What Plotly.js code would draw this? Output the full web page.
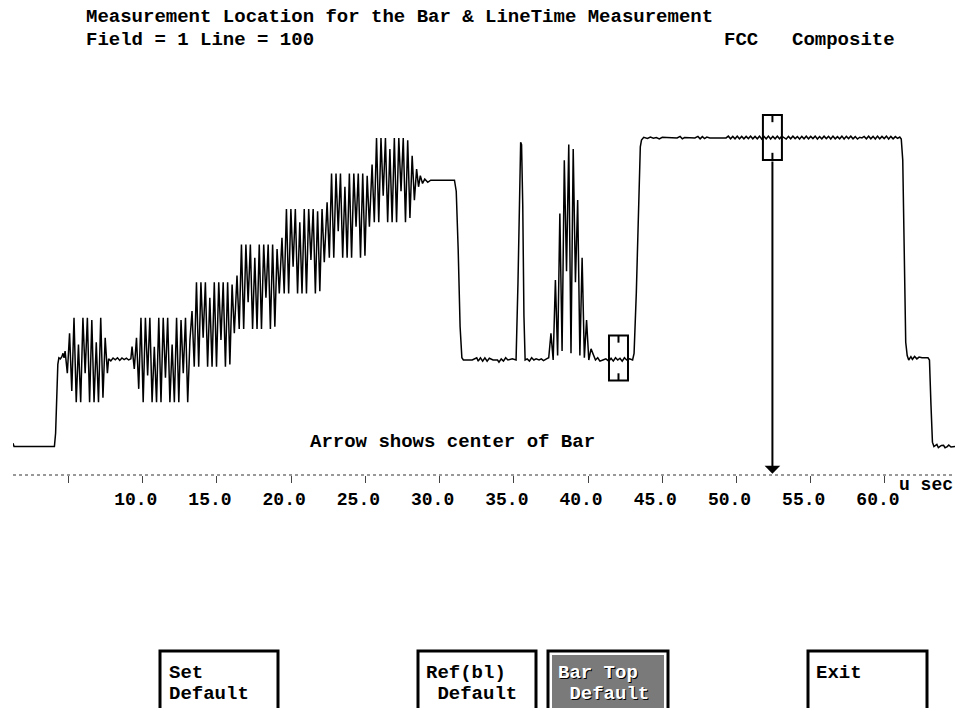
<!DOCTYPE html>
<html><head><meta charset="utf-8">
<script src="https://cdn.plot.ly/plotly-3.0.1.min.js"></script>
<style>html,body{margin:0;padding:0;background:#fff;overflow:hidden}#chart{width:961px;height:708px}</style>
</head><body><div id="chart"></div>
<script>
// ---------- DATA (time in microseconds, level in IRE) ----------
const titleLine1 = 'Measurement Location for the Bar & LineTime Measurement';
const titleLine2 = 'Field = 1 Line = 100';
const standardLabel = 'FCC';
const signalLabel = 'Composite';
const noteText = 'Arrow shows center of Bar';
const unitLabel = 'u sec';
const tickValues = [5, 10, 15, 20, 25, 30, 35, 40, 45, 50, 55, 60];
const tickLabels = ['', '10.0', '15.0', '20.0', '25.0', '30.0', '35.0', '40.0', '45.0', '50.0', '55.0', '60.0'];
const buttonLabels = [['Set', 'Default'], ['Ref(bl)', ' Default'], ['Bar Top', ' Default'], ['Exit']];

// digitizer sample period for the chroma bursts
const sampleUs = 0.15;

// sync tip + rise to blanking  [t, IRE]
const leadSync = [[1.26,-37.5],[1.33,-39],[2.5,-39],[4.05,-39],[4.13,-33],[4.2,-15],[4.28,-2],[4.35,1],[4.45,0.5],[4.55,1.5],[4.63,3],[4.7,1]];
// colour burst
const burstStart = 4.77;
const burstLevels = [4,-6,12,-14,19,-19,7,-19,19,-6,19,-19,18,-19,8,-19,19,-17,10,-6];
const blankAfterBurst = [[7.7,0.5],[7.85,-0.4],[8.0,0.9],[8.15,0.1],[8.3,1],[8.45,-0.2],[8.6,0.9],[8.75,0.2],[8.9,0.8],[9.05,0],[9.2,0.5]];
// modulated staircase (six steps)
const step1Start = 9.28;
const step1Levels = [6,-4,10,-13,19,-19,19,-7,19,-19,6,-19,19,-19,19,-8,19,-19,7,-19,19,-19,18,-6,19,-19,9];
const step2Start = 13.32;
const step2Levels = [22,-3,35,-3,35,10,35,-3,28,-3,35,-3,35,9,35,-3,35,-2,34,12];
const step3Start = 16.35;
const step3Levels = [38,14,52,14,52,26,52,14,46,14,52,14,52,28,52,14,52,15,50,30];
const step4Start = 19.38;
const step4Levels = [55,30,68,30,68,42,68,30,62,30,68,30,68,45,68,30,67,31,68,44];
const step5Start = 22.42;
const step5Levels = [71,46,84,46,84,58,84,46,78,46,84,46,84,60,84,46,84,47,83,60];
const step6Start = 25.45;
const step6Levels = [88,62,100,62,100,74,100,62,95,62,100,62,100,76,100,62,99,64,92,72];
const lumaFlat = [[28.45,86],[28.58,78],[28.7,83],[28.85,79.5],[29.0,81.5],[29.2,80],[29.4,81],[31.0,81],[31.12,76],[31.25,50],[31.38,15],[31.5,1],[31.6,0]];
const blankBeforePulse = [[31.8,0],[32.2,0],[32.5,1],[32.6,-0.5],[32.75,1],[32.9,-0.5],[33.05,1],[33.2,-0.5],[33.35,0.8],[33.6,0],[33.9,0],[34.0,-1],[34.15,0.5],[34.3,-0.5],[34.45,1],[34.6,0],[34.9,0.5],[35.1,0]];
// 2T pulse
const pulse2T = [[35.15,0],[35.28,35],[35.38,82],[35.46,98],[35.52,97],[35.6,70],[35.68,20],[35.76,0]];
const blankBeforeMod = [[35.9,0.5],[36.05,-0.5],[36.2,1],[36.35,0],[36.5,0.5],[36.7,0],[36.85,0.5],[37.0,-0.3],[37.2,0.5]];
// 12.5T modulated pulse
const modPulseStart = 37.35;
const modPulseLevels = [1,12,0,36,2,66,4,90,40,97,3,95,35,72,2,46,1,18,0,5];
const blankBeforeBar = [[40.35,2],[40.5,0],[40.65,1],[40.8,-0.5],[41.0,0],[41.2,0.5],[41.4,-0.5],[41.55,0.8],[41.7,-0.5],[41.85,1],[42.0,0],[42.15,0.8],[42.3,-0.5],[42.45,1],[42.6,0],[42.8,0.5],[43.0,0],[43.1,3],[43.25,30],[43.4,75],[43.52,96],[43.6,99]];
// white bar (100 IRE)
const whiteBar = [[43.75,100.3],[44.0,99.8],[44.2,100.4],[44.4,99.9],[44.6,100.2],[44.8,99.6],[45.0,100.3],[45.3,100.2],[45.6,100],[46.0,100],[46.2,100.7],[46.35,99.6],[46.5,100.2],[46.8,100],[47.2,100],[47.4,100.7],[47.55,99.6],[47.7,100.6],[47.85,99.7],[48.0,100.4],[48.2,100],[48.6,100],[49.0,100],[49.3,100],[49.45,100.8],[49.6,99.6],[49.75,100.7],[49.9,99.6],[50.05,100.8],[50.2,99.6],[50.35,100.7],[50.5,99.6],[50.65,100.7],[50.8,99.7],[50.95,100.8],[51.1,99.6],[51.25,100.7],[51.4,99.6],[51.55,100.8],[51.7,99.5],[51.85,100.7],[52.0,99.6],[52.15,100.8],[52.3,99.5],[52.45,100.7],[52.6,99.6],[52.75,100.8],[52.9,99.6],[53.05,100.8],[53.2,100.2],[53.35,99.5],[53.5,100.7],[53.65,99.6],[53.8,100.8],[53.95,99.7],[54.1,100.6],[54.25,99.5],[54.4,100.7],[54.55,99.6],[54.7,100.8],[54.85,99.6],[55.0,100.7],[55.15,99.7],[55.3,100.8],[55.45,99.5],[55.6,100.6],[55.75,99.6],[55.9,100.8],[56.05,99.7],[56.2,100.7],[56.35,99.5],[56.5,100.8],[56.65,99.6],[56.8,100.6],[56.95,99.6],[57.1,100.8],[57.25,99.5],[57.4,100.7],[57.55,99.7],[57.7,100.8],[57.85,99.6],[58.0,100.6],[58.15,99.5],[58.3,100.3],[58.45,100.0],[58.6,100.7],[58.75,99.6],[58.9,100.8],[59.05,99.6],[59.2,100.7],[59.35,99.5],[59.5,100.8],[59.65,99.6],[59.8,100.7],[59.95,99.7],[60.1,100.8],[60.25,99.5],[60.4,100.7],[60.55,99.6],[60.7,100.6],[60.85,99.8],[61.0,100.4],[61.1,99.5]];
const trailing = [[61.2,90],[61.3,40],[61.4,8],[61.5,2],[61.6,0],[61.75,1.5],[61.85,0.3],[62.0,1.6],[62.15,0.5],[62.3,1.3],[62.5,1],[62.9,1],[63.0,0],[63.1,-20],[63.2,-37],[63.3,-39],[63.5,-38],[63.6,-39.5],[63.8,-38.5],[63.95,-38.4],[64.05,-39.5],[64.2,-39],[64.3,-38.3],[64.45,-39.2],[64.72,-39]];

// measurement markers (centre time, level)
const refMarker = {t: 42.05, level: 0.9};
const barMarker = {t: 52.42, level: 100.2};
const markerHalfWidthUs = 0.64;
const markerHalfHeightIre = 10.1;
const markerTickIre = 3.2;

const xRange = [1.26, 64.72];
const yRange = [-51.8, 135.1];

// ---------- BUILD ----------
const T = [], V = [];
function addPairs(p){ p.forEach(d => { T.push(d[0]); V.push(d[1]); }); }
function addSamples(start, levels){ levels.forEach((v,i) => { T.push(+(start + i*sampleUs).toFixed(3)); V.push(v); }); }
addPairs(leadSync);
addSamples(burstStart, burstLevels);
addPairs(blankAfterBurst);
addSamples(step1Start, step1Levels);
addSamples(step2Start, step2Levels);
addSamples(step3Start, step3Levels);
addSamples(step4Start, step4Levels);
addSamples(step5Start, step5Levels);
addSamples(step6Start, step6Levels);
addPairs(lumaFlat);
addPairs(blankBeforePulse);
addPairs(pulse2T);
addPairs(blankBeforeMod);
addSamples(modPulseStart, modPulseLevels);
addPairs(blankBeforeBar);
addPairs(whiteBar);
addPairs(trailing);

const FONT = '"Courier New", "Liberation Mono", monospace';
const M = {l: 13, r: 6, t: 60, b: 233};
const W = 961, H = 708;
const PW = W - M.l - M.r, PH = H - M.t - M.b;
const px = x => (x - M.l) / PW;
const py = y => (H - M.b - y) / PH;

const shapes = [];
const annotations = [];

// dotted baseline axis
shapes.push({type:'line', xref:'paper', yref:'paper', x0:0, x1:1, y0:0, y1:0, line:{color:'#333', width:1, dash:'dot'}});

// marker boxes
[refMarker, barMarker].forEach(m => {
  const x0 = m.t - markerHalfWidthUs, x1 = m.t + markerHalfWidthUs;
  const y0 = m.level - markerHalfHeightIre, y1 = m.level + markerHalfHeightIre;
  shapes.push({type:'rect', xref:'x', yref:'y', x0, x1, y0, y1, line:{color:'#000', width:2}, fillcolor:'rgba(0,0,0,0)'});
  shapes.push({type:'line', xref:'x', yref:'y', x0:m.t, x1:m.t, y0:y1, y1:y1 - markerTickIre, line:{color:'#000', width:2}});
  shapes.push({type:'line', xref:'x', yref:'y', x0:m.t, x1:m.t, y0:y0, y1:y0 + markerTickIre, line:{color:'#000', width:2}});
});

// arrow from the bar marker to the time axis
annotations.push({x: barMarker.t, y: yRange[0] + 0.6, xref:'x', yref:'y', ax: barMarker.t, ay: barMarker.level - markerHalfHeightIre, axref:'x', ayref:'y', showarrow:true, arrowhead:1, arrowsize:1.3, arrowwidth:2, arrowcolor:'#000', text:'', standoff:0});

function label(text, x, y, size, extra){
  annotations.push(Object.assign({text, xref:'paper', yref:'paper', x:px(x), y:py(y), xanchor:'left', yanchor:'middle', showarrow:false, font:{family:FONT, size, color:'#000', weight:'bold'}}, extra||{}));
}
label(titleLine1, 84, 17, 19);
label(titleLine2, 84, 40, 19);
label(standardLabel, 722, 40, 19);
label(signalLabel, 790, 40, 19);
label(noteText, 308, 442, 19);
label(unitLabel, 897, 485, 18);

// soft-key buttons
const buttonBoxes = [[160, 278], [418, 536], [548, 668], [808, 927]];
const buttonTextX = [167, 424, 556, 814];
const highlighted = 2;
buttonLabels.forEach((lines, i) => {
  const [bx0, bx1] = buttonBoxes[i];
  shapes.push({type:'rect', xref:'paper', yref:'paper', x0:px(bx0), x1:px(bx1), y0:py(720), y1:py(651), line:{color:'#000', width:3}, fillcolor:'#fff'});
  if (i === highlighted) {
    shapes.push({type:'rect', xref:'paper', yref:'paper', x0:px(bx0+4), x1:px(bx1-4), y0:py(720), y1:py(655), line:{width:0}, fillcolor:'#7a7a7a'});
  }
  lines.forEach((ln, k) => {
    const extra = i === highlighted ? {font:{family:FONT, size:19, color:'#fff', weight:'bold', shadow:'1px 1px 0 #000'}} : {};
    label(ln.replace(/ /g, '\u00a0'), buttonTextX[i], 673 + k*21, 19, extra);
  });
});

const trace = {x:T, y:V, type:'scatter', mode:'lines', line:{color:'#000', width:1.5}, hoverinfo:'skip', cliponaxis:false};

const layout = {
  width: W, height: H,
  margin: M,
  paper_bgcolor:'#fff', plot_bgcolor:'#fff',
  showlegend:false,
  xaxis:{range:xRange, showgrid:false, zeroline:false, showline:false, ticks:'outside', ticklen:7, tickwidth:1, tickcolor:'#444',
         tickvals:tickValues, ticktext:tickLabels, tickfont:{family:FONT, size:18, color:'#000', weight:'bold'}, ticklabelshift:-7, ticklabelstandoff:0, fixedrange:true},
  yaxis:{range:yRange, visible:false, fixedrange:true},
  shapes, annotations
};
Plotly.newPlot('chart', [trace], layout, {staticPlot:true, displayModeBar:false});
</script></body></html>
